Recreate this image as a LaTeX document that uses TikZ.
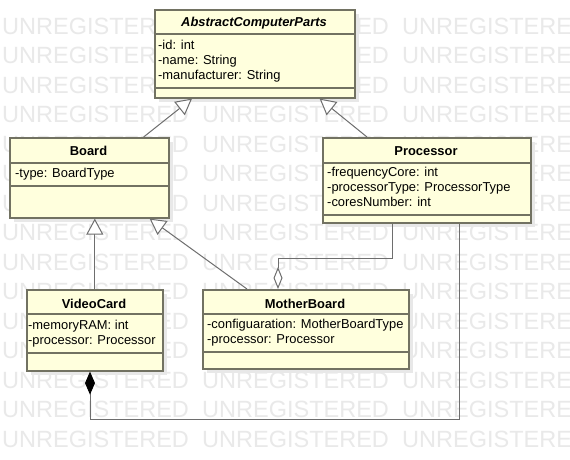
\documentclass[tikz,border=0pt]{standalone}
\usepackage{fontspec}
\setmainfont{Liberation Sans}
\usetikzlibrary{arrows.meta,shadows}

\definecolor{umlfill}{HTML}{FFFFDD}
\definecolor{umlborder}{HTML}{727262}
\definecolor{umlline}{HTML}{6E6E6E}
\definecolor{wmgray}{HTML}{E9E9E9}
\newcommand\umlfont{\fontsize{12.9}{15}\selectfont}

\tikzset{
	classbox/.style={draw=umlborder, fill=umlfill, line width=1.6pt, anchor=north west, inner sep=0pt,
		drop shadow={shadow xshift=4pt, shadow yshift=-4pt, fill=black!9, opacity=1}},
	classname/.style={anchor=base, inner sep=0pt, font=\bfseries\umlfont},
	attrlist/.style={anchor=north west, align=left, inner sep=0pt, font=\umlfont, execute at begin node=\strut},
	sepline/.style={draw=umlborder, line width=1.6pt},
	link/.style={draw=umlline, line width=1pt},
	inherit/.style={link, -{Triangle[length=16pt, width=17pt, fill=white]}},
	aggregate/.style={link, -{Diamond[length=22pt, width=9pt, fill=white]}},
	compose/.style={link, -{Diamond[length=23pt, width=10pt, color=black]}},
	wmtext/.style={anchor=base west, inner sep=0pt, text=wmgray, font=\fontsize{23.5}{28}\selectfont}
}

\begin{document}
\begin{tikzpicture}[x=1pt, y=-1pt]
	\clip (0,0) rectangle (570,459);
	\fill[white] (0,0) rectangle (570,459);
	%% watermark
	\foreach \row in {0,...,14}
		\foreach \col in {0,1,2}
			\node[wmtext] (wm-\row-\col) at (2+200*\col, 34+29.5*\row) {UNREGISTERED};

	%% classes
	\node[classbox, minimum width=200pt, minimum height=88pt] (parts) at (154,9) {};
	\node[classname, font=\bfseries\itshape\umlfont] (partsname) at (254,26.5) {AbstractComputerParts};
	\draw[sepline] (parts.west |- 0,34) -- (parts.east |- 0,34);
	\draw[sepline] (parts.west |- 0,88) -- (parts.east |- 0,88);
	\node[attrlist] (partsattr) at (158,39.5) {-id: int\\-name: String\\-manufacturer: String};

	\node[classbox, minimum width=159pt, minimum height=80pt] (board) at (9,137) {};
	\node[classname] (boardname) at (88.5,155) {Board};
	\draw[sepline] (board.west |- 0,163) -- (board.east |- 0,163);
	\draw[sepline] (board.west |- 0,186) -- (board.east |- 0,186);
	\node[attrlist] (boardattr) at (15,166.5) {-type: BoardType};

	\node[classbox, minimum width=208pt, minimum height=85pt] (proc) at (322,137) {};
	\node[classname] (procname) at (426,155) {Processor};
	\draw[sepline] (proc.west |- 0,163) -- (proc.east |- 0,163);
	\draw[sepline] (proc.west |- 0,215) -- (proc.east |- 0,215);
	\node[attrlist] (procattr) at (327,166.5) {-frequencyCore: int\\-processorType: ProcessorType\\-coresNumber: int};

	\node[classbox, minimum width=136pt, minimum height=81pt] (video) at (26,289) {};
	\node[classname] (videoname) at (94,308) {VideoCard};
	\draw[sepline] (video.west |- 0,314) -- (video.east |- 0,314);
	\draw[sepline] (video.west |- 0,353) -- (video.east |- 0,353);
	\node[attrlist] (videoattr) at (28,319.5) {-memoryRAM: int\\-processor: Processor};

	\node[classbox, minimum width=206pt, minimum height=79pt] (mobo) at (202,289) {};
	\node[classname] (moboname) at (305,308) {MotherBoard};
	\draw[sepline] (mobo.west |- 0,314) -- (mobo.east |- 0,314);
	\draw[sepline] (mobo.west |- 0,352) -- (mobo.east |- 0,352);
	\node[attrlist] (moboattr) at (207,318.5) {-configuaration: MotherBoardType\\-processor: Processor};

	%% relations
	\draw[inherit] ([xshift=-26pt]board.north east) -- ([xshift=38pt]parts.south west);
	\draw[inherit] ([xshift=45pt]proc.north west) -- ([xshift=-36pt]parts.south east);
	\draw[inherit] (video.north) -- (video.north |- board.south);
	\draw[inherit] ([xshift=45pt]mobo.north west) -- ([xshift=-20pt]board.south east);
	\draw[aggregate] ([xshift=70pt]proc.south west) -- ++(0,35) -| ([xshift=76pt]mobo.north west);
	\draw[compose] ([xshift=-72pt]proc.south east) -- ++(0,196) -| ([xshift=64pt]video.south west);
\end{tikzpicture}
\end{document}
